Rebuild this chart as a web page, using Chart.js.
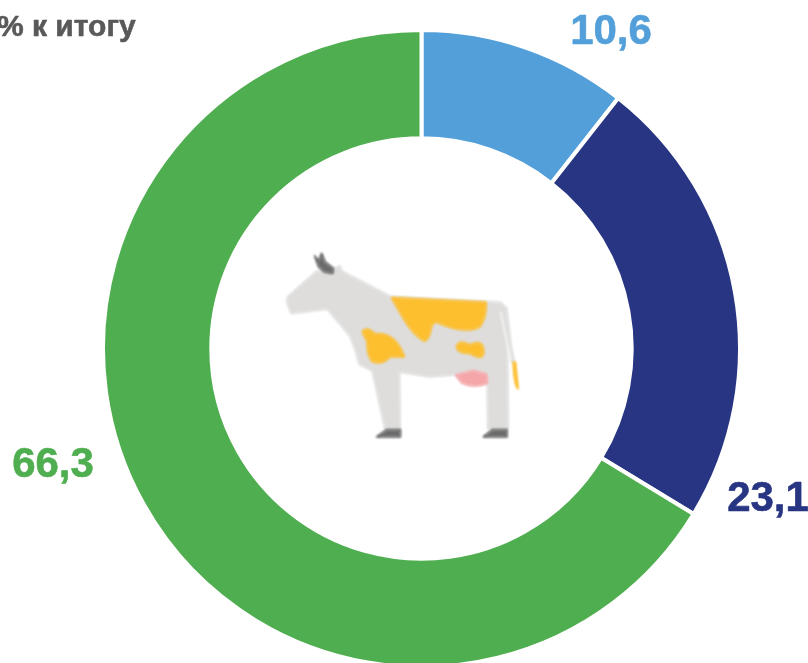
<!DOCTYPE html>
<html><head><meta charset="utf-8">
<style>html,body{margin:0;padding:0;background:#fff;overflow:hidden;width:808px;height:663px}#w{position:relative;width:808px;height:670px}</style>
<script src="https://cdn.jsdelivr.net/npm/chart.js@4"></script>
</head><body><div id="w"><canvas id="c" width="808" height="670"></canvas></div>
<script>
const categories=['A','B','C'];
const shares=[10.6,23.1,66.3];
const shareLabels=['10,6','23,1','66,3'];
const colours=['#529FD9','#283583','#4FAE4F'];
const titleText='% к итогу';
const labelPlaces=[[611,44],[768,511],[53,477]];

function shape(ctx,fill,pts){
  ctx.fillStyle=fill;ctx.strokeStyle=fill;ctx.lineWidth=5;ctx.lineJoin='round';ctx.beginPath();
  pts.forEach((p,i)=>{
    if(i===0)ctx.moveTo(p[0],p[1]);
    else if(p.length===4)ctx.quadraticCurveTo(p[0],p[1],p[2],p[3]);
    else ctx.lineTo(p[0],p[1]);
  });
  ctx.closePath();ctx.fill();ctx.stroke();
}
const cowPlugin={id:'cow',afterDraw(chart){
  const ctx=chart.ctx;ctx.save();
  ctx.translate(270,240);ctx.scale(1/3,1/3);
  ctx.filter='blur(1.2px)';
  // body
  shape(ctx,'#DEDDDC',[[52,172],[140,94],[165,100],[210,78],[215,94],[362,170],[650,185],[692,188],[710,205],[723,320],[733,365],[724,365],[712,300],[714,566],[654,566],[652,400],[610,390],[550,405],[480,410],[388,396],[390,566],[345,566],[307,392],[268,373],[258,330,240,288],[172,207],[64,220],[52,190]]);
  // tail gap
  ctx.strokeStyle='#fff';ctx.lineWidth=4;ctx.beginPath();ctx.moveTo(692,215);ctx.lineTo(722,362);ctx.stroke();
  // horns and ear
  shape(ctx,'#6C6C6C',[[134,47],[146,64],[155,40],[165,66],[190,85],[188,100],[162,96],[146,80]]);
  // patches
  const y='#FDBF2E';
  shape(ctx,y,[[365,173],[648,187],[650,235,628,262],[590,280,520,255],[490,235,483,265],[478,300,462,303],[430,285,400,235]]);
  shape(ctx,y,[[277,275],[290,258,315,282],[375,275,403,350],[360,350],[335,378,305,363],[290,340,292,305]]);
  shape(ctx,y,[[560,318],[570,298,600,315],[640,295,641,335],[640,365,600,340],[560,340,560,318]]);
  shape(ctx,'#F4A6A8',[[557,405],[610,392],[650,403],[652,430],[610,446,575,428]]);
  shape(ctx,y,[[730,367],[736,367],[744,447],[732,430,730,367]]);
  // hooves
  shape(ctx,'#6C6C6C',[[320,591],[350,569],[391,569],[391,591]]);
  shape(ctx,'#6C6C6C',[[640,591],[667,569],[711,569],[711,591]]);
  ctx.filter='none';ctx.restore();
}};
const textPlugin={id:'texts',afterDraw(chart){
  const ctx=chart.ctx;ctx.save();
  ctx.textBaseline='alphabetic';ctx.textAlign='center';ctx.lineJoin='round';
  ctx.font='bold 42px "Liberation Sans"';ctx.lineWidth=0.6;
  shareLabels.forEach((t,i)=>{ctx.fillStyle=colours[i];ctx.strokeStyle=colours[i];ctx.fillText(t,labelPlaces[i][0],labelPlaces[i][1]);ctx.strokeText(t,labelPlaces[i][0],labelPlaces[i][1]);});
  ctx.textAlign='left';ctx.font='bold 30px "Liberation Sans"';ctx.fillStyle='#595959';ctx.strokeStyle='#595959';
  ctx.fillText(titleText,-3,36);ctx.strokeText(titleText,-3,36);
  ctx.restore();
}};
new Chart(document.getElementById('c'),{
  type:'doughnut',
  data:{labels:categories,datasets:[{data:shares,backgroundColor:colours,borderColor:'#fff',borderWidth:4,borderAlign:'center'}]},
  options:{responsive:false,animation:false,cutout:'66%',events:[],
    layout:{padding:{left:101,right:66,top:28,bottom:1}},
    plugins:{legend:{display:false},tooltip:{enabled:false}}},
  plugins:[cowPlugin,textPlugin]
});
</script></body></html>
